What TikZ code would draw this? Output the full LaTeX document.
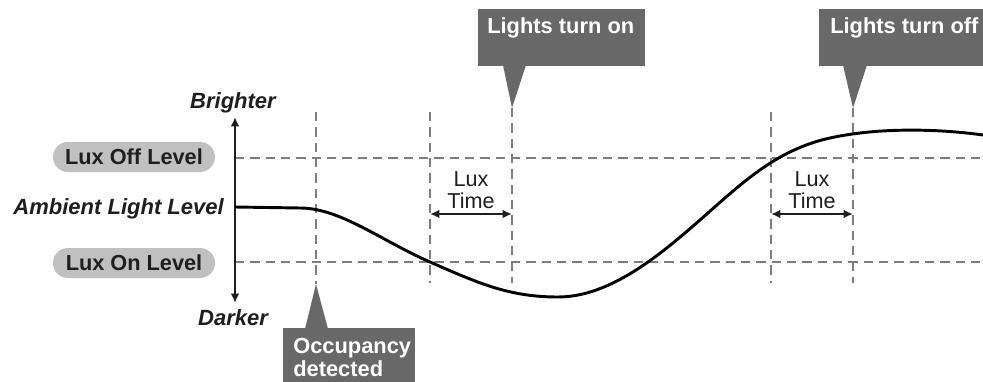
\documentclass[tikz,border=0pt]{standalone}
\usepackage{fontspec}
\setmainfont{Liberation Sans}
\usetikzlibrary{arrows.meta, positioning}
\definecolor{calloutgray}{RGB}{104,104,104}
\definecolor{pillgray}{RGB}{192,192,192}
\definecolor{guidegray}{RGB}{125,125,125}
\definecolor{inkdark}{RGB}{30,30,30}

\begin{document}
\begin{tikzpicture}[x=0.75pt, y=-0.75pt,
  guide/.style={guidegray, line width=1.4pt, dash pattern=on 7pt off 4.5pt},
  pill/.style={fill=pillgray, text=inkdark, rounded corners=11.25pt, minimum width=121.5pt,
    minimum height=22.5pt, inner sep=0pt, font=\bfseries\fontsize{16.3}{18}\selectfont},
  callout/.style={fill=calloutgray},
  callouttext/.style={text=white, inner sep=0pt, align=left,
    font=\bfseries\fontsize{16.4}{17.5}\selectfont},
  axislabel/.style={text=inkdark, inner sep=0pt, font=\bfseries\itshape\fontsize{16.5}{18}\selectfont},
  luxtime/.style={text=inkdark, inner sep=0pt, align=center, font=\fontsize{16.2}{16.5}\selectfont},
  luxarrow/.style={<->, >={Latex[length=7pt,width=6.5pt]}, line width=1.5pt, inkdark}]
  \clip (0,0) rectangle (983,382);

  \coordinate (top) at (235,117);
  \coordinate (bot) at (235,303);
  \coordinate (ambient) at (235,207);
  \coordinate (occtip) at (316,284);
  \coordinate (onstart) at (430,112);
  \coordinate (ontip) at (512,108);
  \coordinate (offstart) at (771,112);
  \coordinate (offtip) at (853,108);

  \draw[guide] (235,158) -- (983,158);
  \draw[guide] (235,262) -- (983,262);
  \draw[guide] (316,112) -- (occtip);
  \draw[guide] (onstart) -- (430,283);
  \draw[guide] (ontip) -- (512,283);
  \draw[guide] (offstart) -- (771,283);
  \draw[guide] (offtip) -- (853,283);

  \draw[luxarrow] (bot) -- (top);
  \node[axislabel, anchor=base] (brighter) at (233,108) {Brighter};
  \node[axislabel, anchor=base] (darker) at (233,325) {Darker};
  \node[axislabel, anchor=base east] (ambientlbl) at (224,214) {Ambient Light Level};
  \node[pill] (luxoff) at (134,157) {Lux Off Level};
  \node[pill] (luxon) at (134,263) {Lux On Level};

  \draw[line width=2.2pt, black] (ambient) -- (300,208)
    .. controls (340,208) and (380,240) .. (430,262)
    .. controls (480,284) and (510,297) .. (558,297)
    .. controls (610,297) and (660,255) .. (700,220)
    .. controls (740,185) and (775,150) .. (830,138)
    .. controls (880,127) and (940,129) .. (983,135);

  \node[luxtime] (luxtime1) at (471,190) {Lux\\Time};
  \draw[luxarrow] (onstart |- 0,214) -- (ontip |- 0,214);
  \node[luxtime] (luxtime2) at (812,190) {Lux\\Time};
  \draw[luxarrow] (offstart |- 0,214) -- (offtip |- 0,214);

  \fill[callout] (478,9) rectangle (645,66);
  \fill[callout] (503,65) -- (ontip) -- (526,65) -- cycle;
  \node[callouttext, anchor=base west] (onlbl) at (487,33) {Lights turn on};

  \fill[callout] (819,9) rectangle (990,66);
  \fill[callout] (843,65) -- (offtip) -- (867,65) -- cycle;
  \node[callouttext, anchor=base west] (offlbl) at (830,33) {Lights turn off};

  \fill[callout] (283,328) rectangle (415,390);
  \fill[callout] (305,329) -- (occtip) -- (328,329) -- cycle;
  \node[callouttext, anchor=north west] (occlbl) at (293,338) {Occupancy\\detected};
\end{tikzpicture}
\end{document}
